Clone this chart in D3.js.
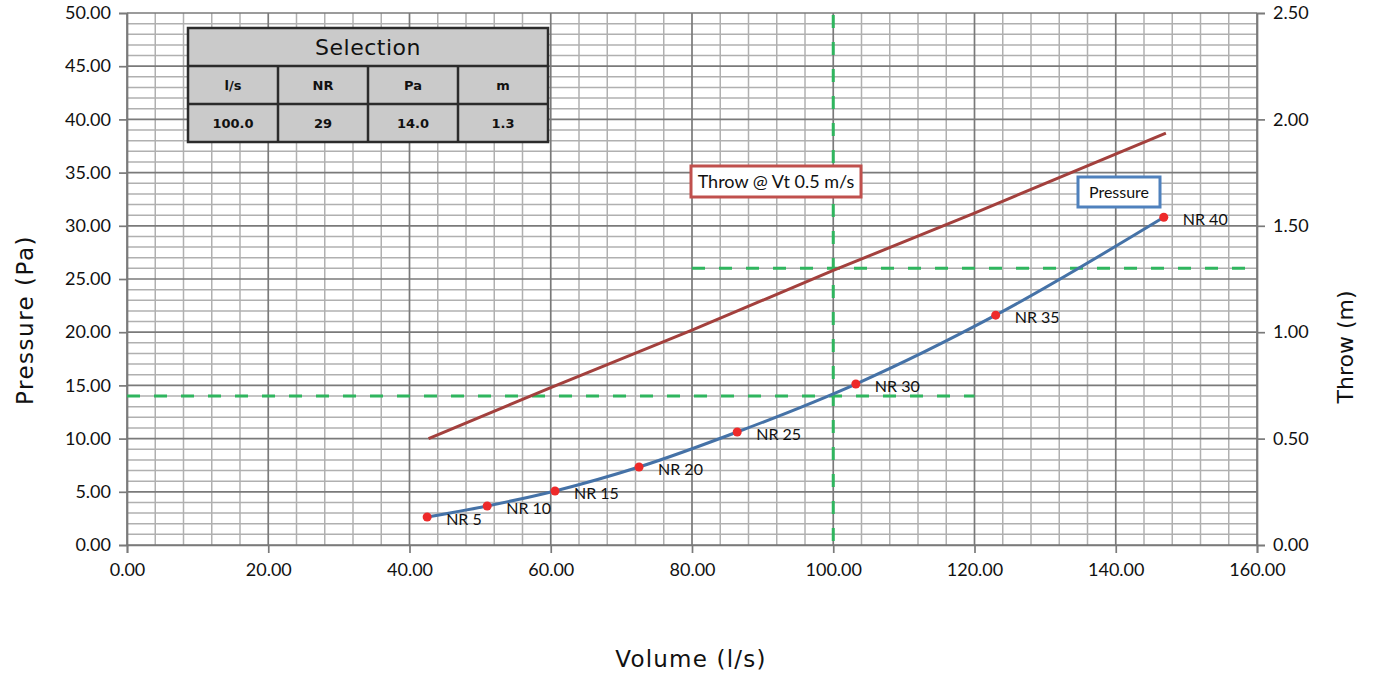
<!DOCTYPE html>
<html><head><meta charset="utf-8">
<script src="https://cdn.jsdelivr.net/npm/d3@7"></script>
<style>
html,body{margin:0;padding:0;background:#fff;}
svg{display:block;}
</style></head>
<body><svg id="c" width="1373" height="674"></svg>
<script>
// ---- data ----
const pressureVolume = [42.5, 51.0, 60.6, 72.5, 86.4, 103.2, 123.0, 146.8];
const pressureValues = [2.63, 3.67, 5.08, 7.33, 10.62, 15.13, 21.6, 30.8];
const nrLabels = ["NR 5","NR 10","NR 15","NR 20","NR 25","NR 30","NR 35","NR 40"];
const throwVolume = [42.7, 60, 80, 100, 120, 147.1];
const throwValues = [0.50, 0.74, 1.01, 1.29, 1.56, 1.935];
const xTicks = [0,20,40,60,80,100,120,140,160];
const yTicks = [0,5,10,15,20,25,30,35,40,45,50];
const y2Ticks = [0,0.5,1,1.5,2,2.5];
const selHeaders = ["l/s","NR","Pa","m"];
const selValues = ["100.0","29","14.0","1.3"];
const selVolume = 100, selPressure = 14.0, selThrow = 1.3;
const pressGuideX = [0, 120];
const throwGuideX = [80, 158.5];

const SANS = "Lato, 'Open Sans', sans-serif";
const TITLE = "'DejaVu Sans', Verdana, sans-serif";

// ---- layout ----
const svg = d3.select("#c");
const L = 127, R = 1257, T = 13, B = 545;
const x = d3.scaleLinear().domain([0,160]).range([L,R]);
const y = d3.scaleLinear().domain([0,50]).range([B,T]);
const y2 = d3.scaleLinear().domain([0,2.5]).range([B,T]);

const g = svg.append("g");
// minor grid
d3.range(0,161,4).filter(v=>v%20!==0).forEach(v=>{
  g.append("line").attr("x1",x(v)).attr("x2",x(v)).attr("y1",T).attr("y2",B)
   .attr("stroke","#b0b0b0").attr("stroke-width",1.5);
});
d3.range(0,51,1).filter(v=>v%5!==0).forEach(v=>{
  g.append("line").attr("x1",L).attr("x2",R).attr("y1",y(v)).attr("y2",y(v))
   .attr("stroke","#b0b0b0").attr("stroke-width",1.5);
});
// major grid
xTicks.forEach(v=>{
  g.append("line").attr("x1",x(v)).attr("x2",x(v)).attr("y1",T).attr("y2",B)
   .attr("stroke","#7a7a7a").attr("stroke-width",1.7);
});
yTicks.forEach(v=>{
  g.append("line").attr("x1",L).attr("x2",R).attr("y1",y(v)).attr("y2",y(v))
   .attr("stroke","#7a7a7a").attr("stroke-width",1.7);
});

// axes
const axL = svg.append("g").attr("transform",`translate(${L},0)`)
  .call(d3.axisLeft(y).tickValues(yTicks).tickFormat(d3.format(".2f")).tickSize(8).tickPadding(8));
const axR = svg.append("g").attr("transform",`translate(${R},0)`)
  .call(d3.axisRight(y2).tickValues(y2Ticks).tickFormat(d3.format(".2f")).tickSize(8).tickPadding(8));
const axB = svg.append("g").attr("transform",`translate(0,${B})`)
  .call(d3.axisBottom(x).tickValues(xTicks).tickFormat(d3.format(".2f")).tickSize(8).tickPadding(10));
[axL,axR,axB].forEach(a=>{
  a.select(".domain").attr("stroke","#7a7a7a").attr("stroke-width",1.7);
  a.selectAll(".tick line").attr("stroke","#7a7a7a").attr("stroke-width",1.7);
  a.selectAll(".tick text").style("font-family",SANS).style("font-size","18px").attr("fill","#111");
});

// guide dashed lines
const dashG = svg.append("g").attr("stroke","#2fb55e").attr("stroke-width",3)
  .attr("stroke-dasharray","13,14").attr("fill","none");
dashG.append("line").attr("x1",x(pressGuideX[0])).attr("x2",x(pressGuideX[1]))
  .attr("y1",y(selPressure)).attr("y2",y(selPressure));
dashG.append("line").attr("x1",x(throwGuideX[0])).attr("x2",x(throwGuideX[1]))
  .attr("y1",y2(selThrow)).attr("y2",y2(selThrow));
dashG.append("line").attr("x1",x(selVolume)).attr("x2",x(selVolume))
  .attr("y1",y(50)+2).attr("y2",y(0));

// throw line
const throwData = throwVolume.map((v,i)=>[v,throwValues[i]]);
svg.append("path").datum(throwData)
  .attr("d",d3.line().x(d=>x(d[0])).y(d=>y2(d[1])))
  .attr("fill","none").attr("stroke","#a3403d").attr("stroke-width",3);

// pressure curve
const pData = pressureVolume.map((v,i)=>[v,pressureValues[i],nrLabels[i]]);
svg.append("path").datum(pData)
  .attr("d",d3.line().x(d=>x(d[0])).y(d=>y(d[1])).curve(d3.curveMonotoneX))
  .attr("fill","none").attr("stroke","#4572a7").attr("stroke-width",3);
svg.selectAll("circle.pt").data(pData).enter().append("circle")
  .attr("cx",d=>x(d[0])).attr("cy",d=>y(d[1])).attr("r",4.5).attr("fill","#ee2a2a");
svg.selectAll("text.nr").data(pData).enter().append("text")
  .attr("x",d=>x(d[0])+19).attr("y",d=>y(d[1])+8)
  .style("font-family",SANS).style("font-size","16px").attr("fill","#111").text(d=>d[2]);

// series label boxes
function labelBox(bx, by, w, h, txt, col, fs){
  svg.append("rect").attr("x",bx).attr("y",by).attr("width",w).attr("height",h)
    .attr("fill","#fff").attr("stroke",col).attr("stroke-width",3);
  svg.append("text").attr("x",bx+w/2).attr("y",by+h/2+6).attr("text-anchor","middle")
    .style("font-family",SANS).style("font-size",fs+"px").attr("fill","#111").text(txt);
}
labelBox(691,166,170,31,"Throw @ Vt 0.5 m/s","#c0504d",18);
labelBox(1078,177,82,30,"Pressure","#4f81bd",16);

// selection table
const tb = svg.append("g");
const tx = 188, ty = 28, cw = 90, rh = 38;
tb.append("rect").attr("x",tx).attr("y",ty).attr("width",cw*4).attr("height",rh*3)
  .attr("fill","#cacaca").attr("stroke","#2b2b2b").attr("stroke-width",2.5);
tb.append("line").attr("x1",tx).attr("x2",tx+cw*4).attr("y1",ty+rh).attr("y2",ty+rh).attr("stroke","#2b2b2b").attr("stroke-width",2.5);
tb.append("line").attr("x1",tx).attr("x2",tx+cw*4).attr("y1",ty+rh*2).attr("y2",ty+rh*2).attr("stroke","#2b2b2b").attr("stroke-width",2.5);
[1,2,3].forEach(i=>tb.append("line").attr("x1",tx+cw*i).attr("x2",tx+cw*i).attr("y1",ty+rh).attr("y2",ty+rh*3).attr("stroke","#2b2b2b").attr("stroke-width",2.5));
tb.append("text").attr("x",tx+cw*2).attr("y",ty+rh/2+8).attr("text-anchor","middle")
  .style("font-family",TITLE).style("font-size","22px").style("letter-spacing","0.5px").attr("fill","#111").text("Selection");
selHeaders.forEach((h,i)=>tb.append("text").attr("x",tx+cw*i+cw/2).attr("y",ty+rh*1.5+5)
  .attr("text-anchor","middle").style("font-family",TITLE).style("font-size","13px")
  .style("font-weight","bold").attr("fill","#111").text(h));
selValues.forEach((h,i)=>tb.append("text").attr("x",tx+cw*i+cw/2).attr("y",ty+rh*2.5+5)
  .attr("text-anchor","middle").style("font-family",TITLE).style("font-size","13px")
  .style("font-weight","bold").attr("fill","#111").text(h));

// axis titles
svg.append("text").attr("transform","translate(33,320) rotate(-90)").attr("text-anchor","middle")
  .style("font-family",TITLE).style("font-size","23px").style("letter-spacing","1.5px").attr("fill","#111").text("Pressure (Pa)");
svg.append("text").attr("transform","translate(1353,347) rotate(-90)").attr("text-anchor","middle")
  .style("font-family",TITLE).style("font-size","22px").attr("fill","#111").text("Throw (m)");
svg.append("text").attr("x",691).attr("y",667).attr("text-anchor","middle")
  .style("font-family",TITLE).style("font-size","23px").style("letter-spacing","1.2px").attr("fill","#111").text("Volume (l/s)");
</script></body></html>
